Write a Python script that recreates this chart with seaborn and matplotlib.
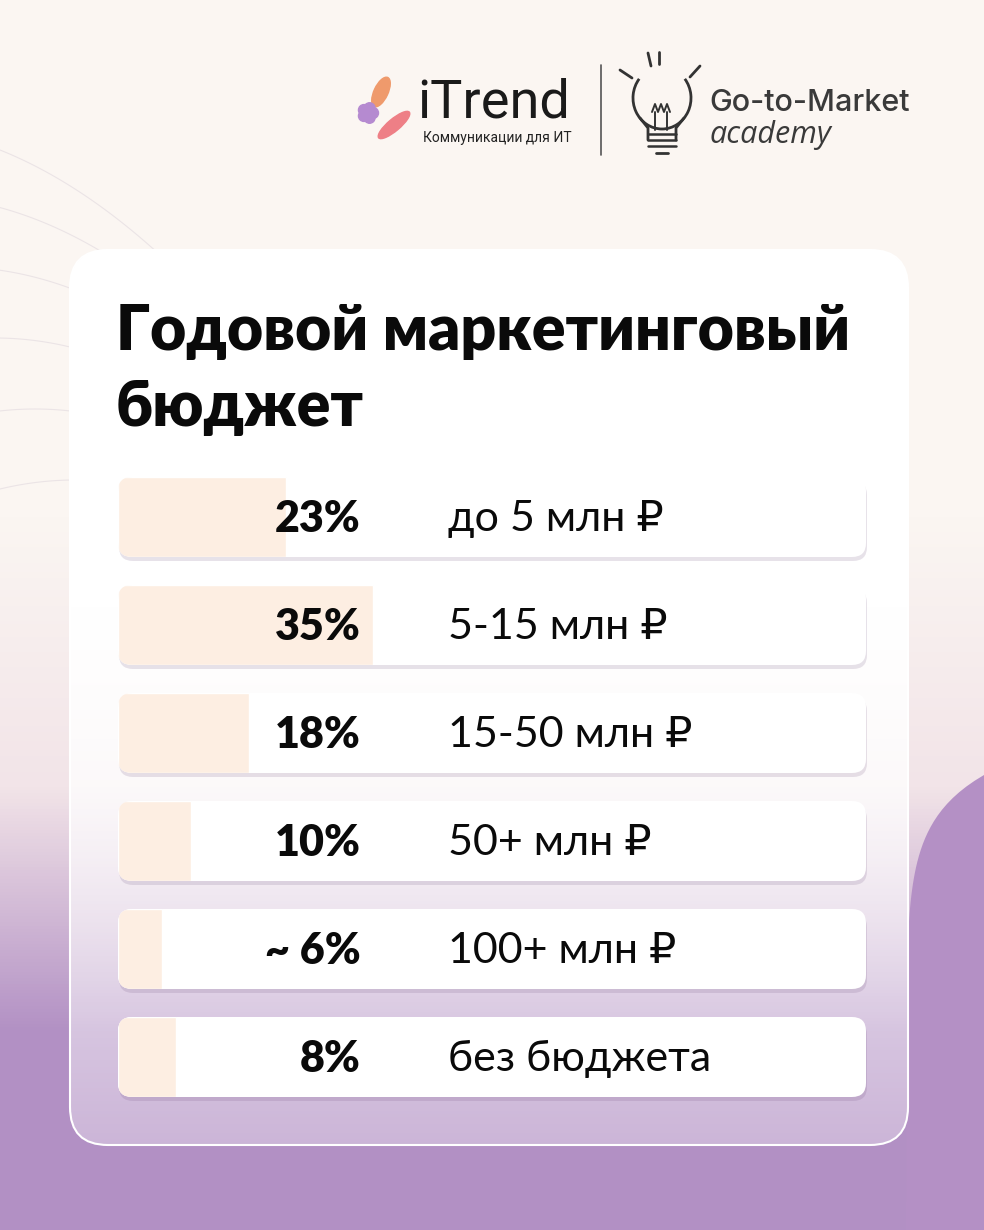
import numpy as np
import pandas as pd
import matplotlib
matplotlib.use("Agg")
import matplotlib.pyplot as plt
import seaborn as sns
from matplotlib.patches import FancyBboxPatch, Ellipse, Circle, Arc, Polygon
from matplotlib.transforms import blended_transform_factory

# data
categories = ["до 5 млн ₽", "5-15 млн ₽", "15-50 млн ₽", "50+ млн ₽", "100+ млн ₽", "без бюджета"]
shares = [23, 35, 18, 10, 6, 8]
share_labels = ["23%", "35%", "18%", "10%", "~ 6%", "8%"]
title_lines = ["Годовой маркетинговый", "бюджет"]

df = pd.DataFrame({"category": categories, "share": shares})

sns.set_theme(style="white")
plt.rcParams["font.family"] = ["Lato", "DejaVu Sans"]

W, H = 984, 1230
fig = plt.figure(figsize=(W / 100, H / 100), dpi=100)

# background axes in pixel coordinates
bg = fig.add_axes([0, 0, 1, 1])
bg.set_xlim(0, W)
bg.set_ylim(H, 0)
bg.axis("off")

top = np.array([251, 246, 242]) / 255
mid = np.array([242, 228, 232]) / 255
bot = np.array([178, 144, 196]) / 255
yy = np.linspace(0, 1, 400)[:, None]
t1 = np.clip((yy - 0.42) / 0.22, 0, 1)
t2 = np.clip((yy - 0.64) / 0.2, 0, 1)
grad = top * (1 - t1) + mid * t1
grad = grad * (1 - t2) + bot * t2
grad = np.repeat(grad[:, None, :], 2, axis=1).reshape(400, 2, 3)
bg.imshow(grad, extent=[0, W, H, 0], aspect="auto", zorder=0)

# soft purple blob on the right
by = np.linspace(775, 1230, 80)
bx = 906 + 78 * np.exp(-(by - 775) / 45)
blob = Polygon(np.column_stack([np.r_[bx, 984], np.r_[by, 1230]]),
               closed=True, facecolor="#b490c5", edgecolor="none", zorder=0.5)
bg.add_patch(blob)

# faint decorative curves top-left
for k in range(6):
    xs = np.linspace(0, 320, 100)
    ys = 150 + k * 55 + 0.0016 * (xs - 40 * k) ** 2 - 0.5 * xs
    bg.plot(xs, ys + xs * 0.9, color="#ebe4e6", lw=0.8, zorder=1)

# panel
panel = FancyBboxPatch((70, 250), 838, 895, boxstyle="round,pad=0,rounding_size=38",
                       facecolor="none", edgecolor="white", lw=1.5, zorder=3)
bg.add_patch(panel)
ys_p = np.linspace(0, 1, 300)
alpha = 1.0 - np.clip((ys_p - 0.4) / 0.6, 0, 1) * 0.66
ov = np.ones((300, 2, 4))
ov[:, :, 3] = alpha[:, None]
im = bg.imshow(ov, extent=[70, 908, 1145, 250], aspect="auto", zorder=2)
im.set_clip_path(panel)

# logos
bg.add_patch(Ellipse((381, 92), 14, 32, angle=25, color="#ef9a6c", zorder=4))
bg.add_patch(Ellipse((394, 125), 12, 40, angle=50, color="#ee7f86", zorder=4))
for a in range(5):
    ang = a * 2 * np.pi / 5
    bg.add_patch(Circle((368 + 5 * np.cos(ang), 113 + 5 * np.sin(ang)), 5.5, color="#b58ad0", zorder=4))
bg.text(417, 118, "iTrend", fontsize=39, family=["Roboto", "DejaVu Sans"], color="#1a1a1a", zorder=5)
bg.text(423, 138, "Коммуникации для ИТ", fontsize=10, family=["Roboto", "DejaVu Sans"],
        color="#222222", va="center", zorder=5)
bg.plot([601, 601], [65, 155], color="#555555", lw=1.2, zorder=4)

# lightbulb
ink = "#333333"
bg.add_patch(Arc((662, 98), 58, 62, theta1=-40, theta2=220, color=ink, lw=2, zorder=4))
bg.plot([640, 648, 648], [118, 128, 140], color=ink, lw=2, zorder=4)
bg.plot([684, 676, 676], [118, 128, 140], color=ink, lw=2, zorder=4)
for yv in [134, 140, 146]:
    bg.plot([648, 676], [yv, yv], color=ink, lw=1.8, zorder=4)
bg.plot([656, 668], [153, 153], color=ink, lw=2, zorder=4)
bg.plot([652, 655, 658, 661, 664, 667, 670], [112, 104, 112, 104, 112, 104, 112], color=ink, lw=1.4, zorder=4)
bg.plot([655, 655], [112, 130], color=ink, lw=1.4, zorder=4)
bg.plot([667, 667], [112, 130], color=ink, lw=1.4, zorder=4)
for (x0, y0, x1, y1) in [(648, 53, 651, 66), (659, 52, 659, 64), (620, 70, 632, 78), (700, 66, 690, 77)]:
    bg.plot([x0, x1], [y0, y1], color=ink, lw=2, zorder=4)
bg.text(709, 111, "Go-to-Market", fontsize=22, family=["Inter", "DejaVu Sans"], weight="medium",
        color="#3a3a3a", zorder=5)
bg.text(710, 143, "academy", fontsize=22, family=["Open Sans", "DejaVu Sans"], style="italic",
        color="#3a3a3a", zorder=5)

# title
for j, line in enumerate(title_lines):
    bg.text(116, 350 + j * 76, line, fontsize=45, weight="heavy", color="#0a0a0a",
            va="baseline", zorder=5)

# rows
row_left, row_right = 118, 866
row_h, pitch, first_center = 80, 108, 517
rows = []
for i in range(len(categories)):
    cy = first_center + i * pitch
    sh = FancyBboxPatch((row_left + 1, cy - row_h / 2 + 4), row_right - row_left, row_h,
                        boxstyle="round,pad=0,rounding_size=14", facecolor="#6e4f7c",
                        edgecolor="none", alpha=0.16, zorder=3)
    bg.add_patch(sh)
    r = FancyBboxPatch((row_left, cy - row_h / 2), row_right - row_left, row_h,
                       boxstyle="round,pad=0,rounding_size=14", facecolor="white",
                       edgecolor="none", zorder=4)
    bg.add_patch(r)
    rows.append(r)

# bar axes
ax_top = first_center - pitch / 2
ax_bot = first_center + (len(categories) - 0.5) * pitch
ax = fig.add_axes([row_left / W, 1 - ax_bot / H, (row_right - row_left) / W, (ax_bot - ax_top) / H])
ax.patch.set_alpha(0)
sns.barplot(data=df, x="share", y="category", orient="h", color="#fdeee2",
            width=row_h / pitch, saturation=1, ax=ax, zorder=5)
ax.set_xlim(0, 102.5)
ax.axis("off")
for bar, r in zip(ax.patches, rows):
    bar.set_clip_path(r)

tr = blended_transform_factory(ax.transAxes, ax.transData)
pct_x = (361 - row_left) / (row_right - row_left)
lab_x = (448 - row_left) / (row_right - row_left)
for i, (lab, cat) in enumerate(zip(share_labels, categories)):
    ax.text(pct_x, i + 0.02, lab, transform=tr, ha="right", va="center", fontsize=31,
            weight="heavy", color="#0a0a0a", zorder=6)
    ax.text(lab_x, i + 0.02, cat, transform=tr, ha="left", va="center", fontsize=31,
            color="#0a0a0a", zorder=6)

fig.savefig("out.png", dpi=100)
